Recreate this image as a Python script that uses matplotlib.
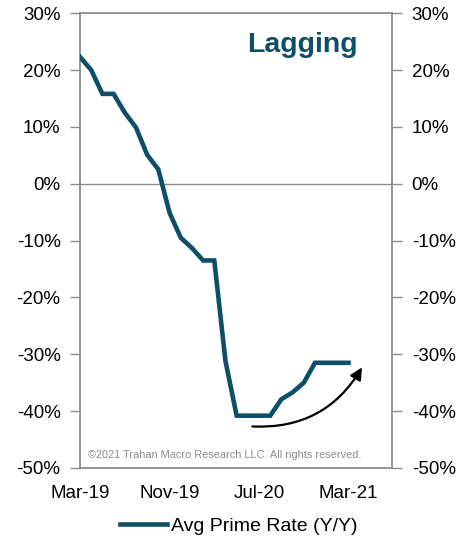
import matplotlib
matplotlib.use("Agg")
import matplotlib.pyplot as plt

plt.rcParams['font.family'] = ['Liberation Sans', 'DejaVu Sans']

months = ["Mar-19", "Apr-19", "May-19", "Jun-19", "Jul-19", "Aug-19", "Sep-19", "Oct-19",
          "Nov-19", "Dec-19", "Jan-20", "Feb-20", "Mar-20", "Apr-20", "May-20", "Jun-20",
          "Jul-20", "Aug-20", "Sep-20", "Oct-20", "Nov-20", "Dec-20", "Jan-21", "Feb-21",
          "Mar-21"]
prime_yy = [22.3, 20.0, 15.8, 15.8, 12.5, 9.9, 5.1, 2.5,
            -5.1, -9.5, -11.3, -13.5, -13.5, -31.2, -40.8, -40.8,
            -40.8, -40.8, -37.9, -36.7, -35.0, -31.5, -31.5, -31.5,
            -31.5]
tick_labels = ["Mar-19", "Nov-19", "Jul-20", "Mar-21"]
y_ticks = [30, 20, 10, 0, -10, -20, -30, -40, -50]

line_color = "#0d4f66"
spine_color = "#8c8c8c"

fig = plt.figure(figsize=(4.68, 5.48), dpi=100)
ax = fig.add_axes([0.171, 0.146, 0.667, 0.830])

x = list(range(len(months)))
ax.plot(x, prime_yy, color=line_color, lw=3.3, solid_joinstyle="miter",
        label="Avg Prime Rate (Y/Y)", zorder=3)
ax.axhline(0, color=spine_color, lw=1.0, zorder=1)

ax.set_xlim(0, 27.9)
ax.set_ylim(-50, 30)
ax.set_yticks(y_ticks)
ax.set_yticklabels([f"{v}%" for v in y_ticks])
ax.set_xticks([months.index(m) for m in tick_labels])
ax.set_xticklabels(tick_labels)

ax.tick_params(axis="y", which="both", direction="out", length=7, width=1.0,
               color=spine_color, labelsize=13.5, pad=7,
               left=True, right=True, labelleft=True, labelright=True)
ax.tick_params(axis="x", length=0, labelsize=13.5, pad=12)

for s in ax.spines.values():
    s.set_color(spine_color)
    s.set_linewidth(1.3)

ax.text(0.713, 0.93, "Lagging", transform=ax.transAxes, ha="center", va="center",
        fontsize=20.5, fontweight="bold", color=line_color)
ax.text(0.026, 0.028, "\u00a92021 Trahan Macro Research LLC. All rights reserved.",
        transform=ax.transAxes, ha="left", va="center", fontsize=7.9, color="#8c8c8c")

ax.annotate("", xy=(25.2, -32.3), xytext=(15.4, -42.7),
            arrowprops=dict(arrowstyle="-|>", color="black", lw=1.6,
                            mutation_scale=18, shrinkA=0, shrinkB=0,
                            connectionstyle="arc3,rad=0.3"))

fig.legend(loc="center", bbox_to_anchor=(0.51, 0.04), frameon=False,
           fontsize=14, handlelength=2.4, handletextpad=0.2)

fig.savefig("out.png", dpi=100)
